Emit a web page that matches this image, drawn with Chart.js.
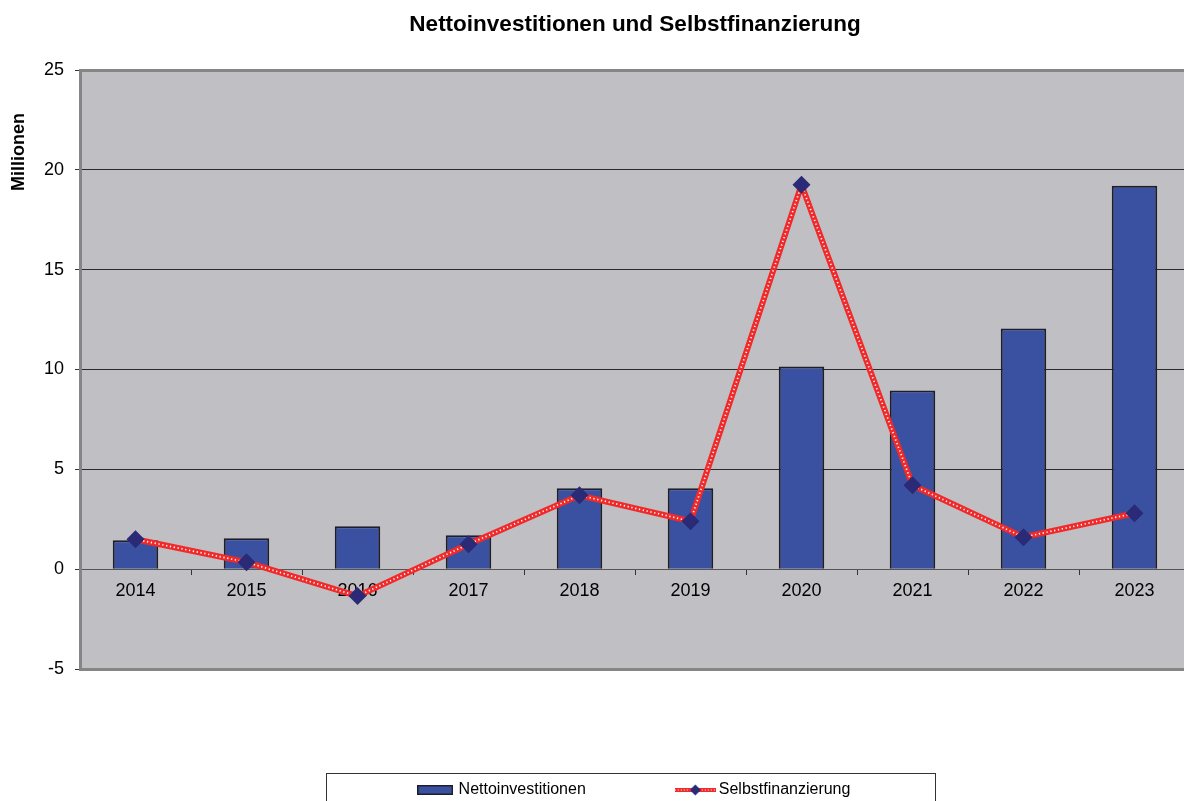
<!DOCTYPE html>
<html>
<head>
<meta charset="utf-8">
<script src="https://cdn.jsdelivr.net/npm/chart.js@4/dist/chart.umd.min.js"></script>
<style>
  html, body { margin: 0; padding: 0; background: #fff; overflow: hidden; }
  #wrap { width: 1184px; height: 801px; overflow: hidden; }
</style>
</head>
<body>
<div id="wrap"><canvas id="chart" width="1199" height="801"></canvas></div>
<script>
// data
const years = ['2014', '2015', '2016', '2017', '2018', '2019', '2020', '2021', '2022', '2023'];
const nettoinvestitionen = [1.45, 1.55, 2.15, 1.7, 4.05, 4.05, 10.15, 8.95, 12.05, 19.2];
const selbstfinanzierung = [1.5, 0.35, -1.35, 1.25, 3.7, 2.4, 19.25, 4.2, 1.6, 2.8];
const yMin = -5;
const yMax = 25;
const yStep = 5;

const FONT = '"Liberation Sans", Arial, sans-serif';
const BAR_BLUE = '#3a51a1';
const BAR_EDGE = '#1e1e2c';
const LINE_RED = '#f02a2a';
const MARKER = '#2a2a76';

// legend icons drawn as small canvases
function barIcon() {
  const c = document.createElement('canvas');
  c.width = 36; c.height = 10;
  const g = c.getContext('2d');
  g.fillStyle = BAR_BLUE;
  g.fillRect(1, 1, 34, 8);
  g.strokeStyle = BAR_EDGE;
  g.lineWidth = 1.5;
  g.strokeRect(0.75, 0.75, 34.5, 8.5);
  return c;
}
function lineIcon() {
  const c = document.createElement('canvas');
  c.width = 41; c.height = 12;
  const g = c.getContext('2d');
  g.strokeStyle = LINE_RED;
  g.lineWidth = 4;
  g.beginPath(); g.moveTo(0, 6); g.lineTo(41, 6); g.stroke();
  g.strokeStyle = '#fff';
  g.lineWidth = 1;
  g.setLineDash([1, 2]);
  g.beginPath(); g.moveTo(0, 6); g.lineTo(41, 6); g.stroke();
  g.fillStyle = MARKER;
  g.beginPath(); g.moveTo(20.5, 0.5); g.lineTo(26, 6); g.lineTo(20.5, 11.5); g.lineTo(15, 6); g.closePath(); g.fill();
  return c;
}
const icons = [barIcon(), lineIcon()];

// grey plot background
const plotBackground = {
  id: 'plotBackground',
  beforeDraw(chart) {
    const {ctx, chartArea: a} = chart;
    ctx.save();
    ctx.fillStyle = '#c0c0c4';
    ctx.fillRect(a.left, a.top, a.right - a.left, a.bottom - a.top);
    ctx.restore();
  }
};

// y title sits near the top of the axis, and the legend has a frame
const extras = {
  id: 'extras',
  afterDraw(chart) {
    const {ctx} = chart;
    ctx.save();
    ctx.font = 'bold 18px ' + FONT;
    ctx.fillStyle = '#000';
    ctx.textAlign = 'center';
    ctx.textBaseline = 'middle';
    ctx.translate(19, 152);
    ctx.rotate(-Math.PI / 2);
    ctx.fillText('Millionen', 0, 0);
    ctx.restore();

    const hb = chart.legend.legendHitBoxes;
    if (hb && hb.length) {
      const left = hb[0].left - 93.5;
      const right = hb[hb.length - 1].left + hb[hb.length - 1].width + 85;
      const top = hb[0].top + hb[0].height / 2 - 17.5;
      ctx.save();
      ctx.strokeStyle = '#333';
      ctx.lineWidth = 1;
      ctx.strokeRect(Math.round(left) + 0.5, Math.round(top) + 0.5, Math.round(right - left), 60);
      ctx.restore();
    }
  }
};

const ctx = document.getElementById('chart').getContext('2d');
new Chart(ctx, {
  type: 'bar',
  data: {
    labels: years,
    datasets: [
      {
        type: 'line',
        label: 'marker',
        data: selbstfinanzierung,
        showLine: false,
        pointStyle: 'rectRot',
        pointRadius: 9,
        pointBackgroundColor: MARKER,
        pointBorderWidth: 0,
        order: 0
      },
      {
        type: 'line',
        label: 'dots',
        data: selbstfinanzierung,
        borderColor: 'rgba(255,255,255,0.95)',
        borderWidth: 1.7,
        borderDash: [1.3, 2.6],
        pointRadius: 0,
        tension: 0,
        order: 1
      },
      {
        type: 'line',
        label: 'Selbstfinanzierung',
        data: selbstfinanzierung,
        borderColor: LINE_RED,
        borderWidth: 6,
        pointRadius: 0,
        tension: 0,
        order: 2
      },
      {
        label: 'Nettoinvestitionen',
        data: nettoinvestitionen,
        backgroundColor: BAR_BLUE,
        borderColor: BAR_EDGE,
        borderWidth: 2,
        barPercentage: 0.41,
        categoryPercentage: 1.0,
        order: 3
      }
    ]
  },
  options: {
    responsive: false,
    animation: false,
    layout: { padding: { left: 0, right: 0, top: 0, bottom: -7 } },
    scales: {
      x: {
        position: { y: 0 },
        offset: true,
        grid: {
          offset: true,
          drawOnChartArea: false,
          drawTicks: true,
          tickLength: 6,
          tickColor: '#333',
          tickWidth: 1
        },
        border: { display: false },
        ticks: {
          color: '#000',
          padding: 5,
          maxRotation: 0,
          font: { family: FONT, size: 18 }
        }
      },
      y: {
        min: yMin,
        max: yMax,
        afterFit(scale) { scale.width = 80; },
        ticks: {
          stepSize: yStep,
          color: '#000',
          padding: 11,
          font: { family: FONT, size: 18 }
        },
        grid: {
          color: c => (c.tick && (c.tick.value === yMax || c.tick.value === yMin)) ? '#858585'
                      : (c.tick && c.tick.value === 0 ? '#555' : '#2a2a2a'),
          lineWidth: c => (c.tick && (c.tick.value === yMax || c.tick.value === yMin)) ? 3 : 1,
          tickLength: 5,
          tickColor: '#333',
          tickWidth: 1
        },
        border: { display: true, color: '#858585', width: 3 }
      }
    },
    plugins: {
      title: {
        display: true,
        fullSize: false,
        text: 'Nettoinvestitionen und Selbstfinanzierung',
        color: '#000',
        font: { family: FONT, size: 22.5, weight: 'bold' },
        padding: { top: 11, bottom: 32 }
      },
      legend: {
        display: true,
        position: 'bottom',
        fullSize: false,
        title: { display: true, text: '', font: { size: 12 }, padding: { top: 4.6, bottom: 0 } },
        labels: {
          usePointStyle: true,
          pointStyleWidth: 31,
          boxHeight: 12,
          padding: 94,
          color: '#000',
          font: { family: FONT, size: 16 },
          generateLabels: () => [
            { text: 'Nettoinvestitionen', pointStyle: icons[0], fillStyle: BAR_BLUE, strokeStyle: BAR_EDGE, fontColor: '#000', lineWidth: 0, hidden: false, datasetIndex: 3 },
            { text: 'Selbstfinanzierung', pointStyle: icons[1], fillStyle: LINE_RED, strokeStyle: LINE_RED, fontColor: '#000', lineWidth: 0, hidden: false, datasetIndex: 2 }
          ]
        }
      },
      tooltip: { enabled: false }
    }
  },
  plugins: [plotBackground, extras]
});
</script>
</body>
</html>
